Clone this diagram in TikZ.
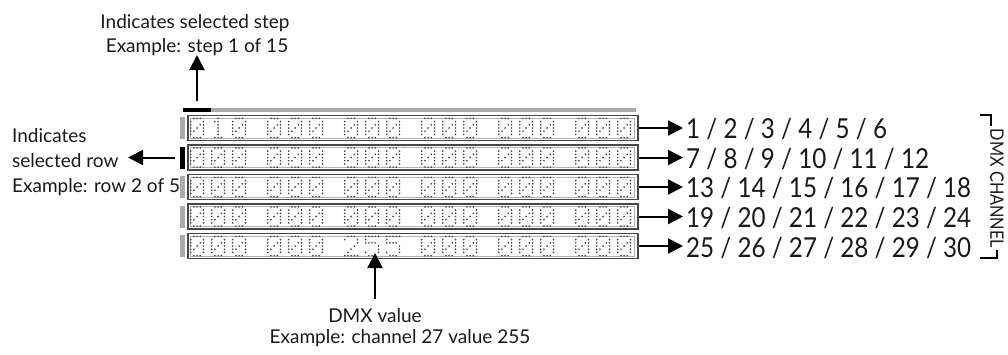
\documentclass[tikz,border=0pt]{standalone}
\usepackage{fontspec}
\setmainfont{Lato}
\newfontfamily\numfont[FakeStretch=0.88]{Lato}
\usetikzlibrary{arrows.meta}
\def\dzero{1/0,2/0,3/0,0/1,4/1,0/2,3/2,4/2,0/3,2/3,4/3,0/4,1/4,4/4,0/5,4/5,1/6,2/6,3/6}
\def\done{2/0,1/1,2/1,2/2,2/3,2/4,2/5,1/6,2/6,3/6}
\def\dtwo{1/0,2/0,3/0,0/1,4/1,4/2,3/3,2/4,1/5,0/6,1/6,2/6,3/6,4/6}
\def\dfive{0/0,1/0,2/0,3/0,4/0,0/1,0/2,1/2,2/2,3/2,4/3,4/4,0/5,4/5,1/6,2/6,3/6}
\begin{document}
\begin{tikzpicture}[x=1pt,y=-1pt,
  desc/.style={font=\fontsize{19}{24}\selectfont, inner sep=0pt, text=black!90},
  numlbl/.style={font=\numfont\fontsize{27.5}{30}\selectfont, anchor=base west, inner sep=0pt, text=black!90},
  rowbox/.style={draw=black!72, line width=1.5pt, minimum width=450pt, minimum height=25pt, inner sep=0pt, anchor=west},
  marker/.style={fill=black!33, minimum width=4.5pt, minimum height=22pt, inner sep=0pt},
  conn/.style={line width=2pt, -{Triangle[length=15pt,width=15pt]}},
  dmxdot/.style={fill=black!72}]
\useasboundingbox (0,0) rectangle (1008,354);

% top step bar
\fill[black!33] (183,107.5) rectangle (636,111.5);
\node[fill=black, minimum width=28pt, minimum height=4pt, inner sep=0pt] (sel) at (197,109.5) {};

% rows
\foreach \i/\yy in {1/128,2/157.5,3/187,4/216.5,5/246} {
  \node[rowbox] (r\i) at (187,\yy) {};
  \draw[black!30, line width=0.6pt] (190,\yy-9.9) rectangle (634,\yy+9.9);
  \node[marker] (m\i) at (182.3,\yy) {};
  \foreach \g in {0,...,5} {
    \foreach \d in {0,1,2} {
      \pgfmathsetmacro\xx{190.7+77*\g+21*\d}
      \let\pat\dzero
      \ifnum\i=1 \ifnum\g=0 \ifnum\d=1 \let\pat\done\fi\fi\fi
      \ifnum\i=5 \ifnum\g=2 \ifnum\d=0 \let\pat\dtwo\else\let\pat\dfive\fi\fi\fi
      \foreach \c/\r in \pat {\fill[dmxdot] (\xx+\c*3.2, \yy-9.6+\r*3.2) circle (0.95);}
    }
  }
}
\node[marker, fill=black] (m2b) at (182.3,157.5) {};

% right labels
\node[numlbl] (l1) at (686,138.5) {1 / 2 / 3 / 4 / 5 / 6};
\node[numlbl] (l2) at (686,168) {7 / 8 / 9 / 10 / 11 / 12};
\node[numlbl] (l3) at (686,197.5) {13 / 14 / 15 / 16 / 17 / 18};
\node[numlbl] (l4) at (686,227) {19 / 20 / 21 / 22 / 23 / 24};
\node[numlbl] (l5) at (686,257) {25 / 26 / 27 / 28 / 29 / 30};
\foreach \i in {1,...,5} {
  \draw[conn] (r\i.east) -- ([xshift=-3pt]r\i.east -| l\i.west);
}

% DMX CHANNEL
\node[font=\numfont\fontsize{18.5}{20}\selectfont, rotate=-90, inner sep=0pt, text=black!90] (dmxch) at (997,188.5) {DMX CHANNEL};
\draw[line width=2pt] (980,115) -- (991,115) -- (991,126);
\draw[line width=2pt] (980,258) -- (996.5,258) -- (996.5,250);

% top label
\node[desc, anchor=base] (t1) at (195,28) {Indicates selected step};
\node[desc, anchor=base] (t2) at (197,52) {Example: step 1 of 15};
\coordinate (steptip) at (197,55);
\draw[conn, shorten <=6pt] (sel.north) -- (steptip);

% left label
\node[desc, anchor=base west] (a1) at (12,142) {Indicates};
\node[desc, anchor=base west] (a2) at (12,167) {selected row};
\node[desc, anchor=base west] (a3) at (12,192) {Example: row 2 of 5};
\coordinate (rowtip) at (128,157.5);
\draw[conn, shorten <=5pt] (m2b.west) -- (rowtip);

% bottom label
\node[desc, anchor=base] (b1) at (375,322) {DMX value};
\node[desc, anchor=base] (b2) at (400,343) {Example: channel 27 value 255};
\coordinate (valtip) at (375,253);
\coordinate (valbase) at (375,299);
\draw[conn] (valbase) -- (valtip);
\end{tikzpicture}
\end{document}
